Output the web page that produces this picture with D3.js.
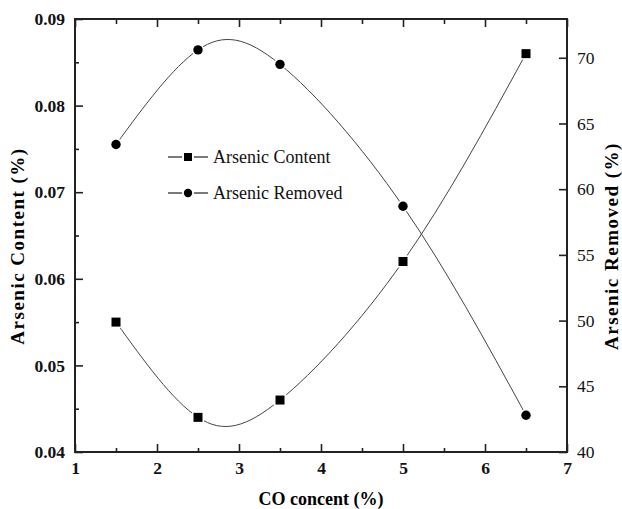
<!DOCTYPE html>
<html>
<head>
<meta charset="utf-8">
<script src="https://cdn.jsdelivr.net/npm/d3@7"></script>
<style>
  body { margin: 0; background: #fff; }
  svg { display: block; font-family: "Liberation Serif", "Times New Roman", serif; }
  .tick text { font-family: "Liberation Serif", serif !important; }
</style>
</head>
<body>
<div id="chart"></div>
<script>
// data
var coConcent = [1.5, 2.5, 3.5, 5, 6.5];
var arsenicContent = [0.055, 0.044, 0.046, 0.062, 0.086];
var arsenicRemoved = [63.4, 70.6, 69.5, 58.7, 42.8];

var xTicks = [1, 2, 3, 4, 5, 6, 7];
var leftTicks = [0.04, 0.05, 0.06, 0.07, 0.08, 0.09];
var rightTicks = [40, 45, 50, 55, 60, 65, 70];
var legendLabels = ["Arsenic Content", "Arsenic Removed"];

var width = 622, height = 509;
var margin = { left: 75, right: 55, top: 19, bottom: 57 };
var innerW = width - margin.left - margin.right;
var innerH = height - margin.top - margin.bottom;

var svg = d3.select('#chart')
  .append('svg')
  .attr('width', width)
  .attr('height', height);

var g = svg.append('g')
  .attr('transform', `translate(${margin.left},${margin.top})`);

var x = d3.scaleLinear().domain([1, 7]).range([0, innerW]);
var yLeft = d3.scaleLinear().domain([0.04, 0.09]).range([innerH, 0]);
var yRight = d3.scaleLinear().domain([40, 72.95]).range([innerH, 0]);

var halfTicks = d3.range(1.5, 7, 1);
var leftMinor = d3.range(0.045, 0.09, 0.01);

// axes - ticks point inward like the original
function styleAxis(sel, bold) {
  sel.attr('font-family', null).attr('font-size', null);
  sel.select('.domain').remove();
  sel.selectAll('line').attr('stroke', '#222').attr('stroke-width', 1.6);
  sel.selectAll('text')
    .attr('fill', '#111')
    .attr('font-size', 17.5)
    .attr('font-weight', bold ? 'bold' : 'normal');
}

// bottom
g.append('g')
  .attr('transform', `translate(0,${innerH})`)
  .call(d3.axisBottom(x).tickValues(xTicks).tickFormat(d3.format('d')).tickSizeInner(-8).tickPadding(10))
  .call(s => styleAxis(s, true));
g.append('g')
  .attr('transform', `translate(0,${innerH})`)
  .call(d3.axisBottom(x).tickValues(halfTicks).tickFormat('').tickSizeInner(-4))
  .call(s => styleAxis(s, true));

// top (no labels)
g.append('g')
  .call(d3.axisTop(x).tickValues(xTicks).tickFormat('').tickSizeInner(-8))
  .call(s => styleAxis(s, true));
g.append('g')
  .call(d3.axisTop(x).tickValues(halfTicks).tickFormat('').tickSizeInner(-5))
  .call(s => styleAxis(s, true));

// left
g.append('g')
  .call(d3.axisLeft(yLeft).tickValues(leftTicks).tickFormat(d3.format('.2f')).tickSizeInner(-8).tickPadding(10))
  .call(s => styleAxis(s, true));
g.append('g')
  .call(d3.axisLeft(yLeft).tickValues(leftMinor).tickFormat('').tickSizeInner(-4))
  .call(s => styleAxis(s, true));

// right
g.append('g')
  .attr('transform', `translate(${innerW},0)`)
  .call(d3.axisRight(yRight).tickValues(rightTicks).tickFormat(d3.format('d')).tickSizeInner(-8).tickPadding(10))
  .call(s => styleAxis(s, false));

// frame
g.append('rect')
  .attr('width', innerW)
  .attr('height', innerH)
  .attr('fill', 'none')
  .attr('stroke', '#222')
  .attr('stroke-width', 2);

// curves
var contentLine = d3.line()
  .x((d, i) => x(coConcent[i]))
  .y(d => yLeft(d))
  .curve(d3.curveNatural);

var removedLine = d3.line()
  .x((d, i) => x(coConcent[i]))
  .y(d => yRight(d))
  .curve(d3.curveNatural);

g.append('path')
  .attr('d', contentLine(arsenicContent))
  .attr('fill', 'none')
  .attr('stroke', '#444')
  .attr('stroke-width', 1);

g.append('path')
  .attr('d', removedLine(arsenicRemoved))
  .attr('fill', 'none')
  .attr('stroke', '#444')
  .attr('stroke-width', 1);

// markers, white outline gives the gap where the line meets them
g.selectAll('.sq')
  .data(arsenicContent)
  .join('rect')
  .attr('class', 'sq')
  .attr('x', (d, i) => x(coConcent[i]) - 4.5)
  .attr('y', d => yLeft(d) - 4.5)
  .attr('width', 9)
  .attr('height', 9)
  .attr('fill', '#000')
  .attr('stroke', '#fff')
  .attr('stroke-width', 3)
  .attr('paint-order', 'stroke');

g.selectAll('.dot')
  .data(arsenicRemoved)
  .join('circle')
  .attr('class', 'dot')
  .attr('cx', (d, i) => x(coConcent[i]))
  .attr('cy', d => yRight(d))
  .attr('r', 4.7)
  .attr('fill', '#000')
  .attr('stroke', '#fff')
  .attr('stroke-width', 3)
  .attr('paint-order', 'stroke');

// legend
var legend = g.append('g').attr('transform', `translate(${168 - margin.left},${157 - margin.top})`);
legendLabels.forEach(function (label, i) {
  var row = legend.append('g').attr('transform', `translate(0,${i * 36})`);
  row.append('line').attr('x1', 0).attr('x2', 14).attr('stroke', '#222').attr('stroke-width', 1.2);
  row.append('line').attr('x1', 26).attr('x2', 40).attr('stroke', '#222').attr('stroke-width', 1.2);
  if (i === 0) {
    row.append('rect').attr('x', 16).attr('y', -4).attr('width', 8).attr('height', 8).attr('fill', '#000');
  } else {
    row.append('circle').attr('cx', 20).attr('cy', 0).attr('r', 4.2).attr('fill', '#000');
  }
  row.append('text')
    .attr('x', 45)
    .attr('y', 6)
    .style('font-size', '18px')
    .attr('fill', '#111')
    .text(label);
});

// axis titles
svg.append('text')
  .attr('transform', `translate(24,${246}) rotate(-90)`)
  .attr('text-anchor', 'middle')
  .style('font-size', '19px')
  .style('font-weight', 'bold')
  .style('letter-spacing', '1.5px')
  .text('Arsenic Content (%)');

svg.append('text')
  .attr('transform', `translate(618,${246}) rotate(-90)`)
  .attr('text-anchor', 'middle')
  .style('font-size', '19px')
  .style('font-weight', 'bold')
  .style('letter-spacing', '1.5px')
  .text('Arsenic Removed (%)');

svg.append('text')
  .attr('x', 321)
  .attr('y', 505)
  .attr('text-anchor', 'middle')
  .style('font-size', '18px')
  .style('font-weight', 'bold')
  .text('CO concent (%)');
</script>
</body>
</html>
